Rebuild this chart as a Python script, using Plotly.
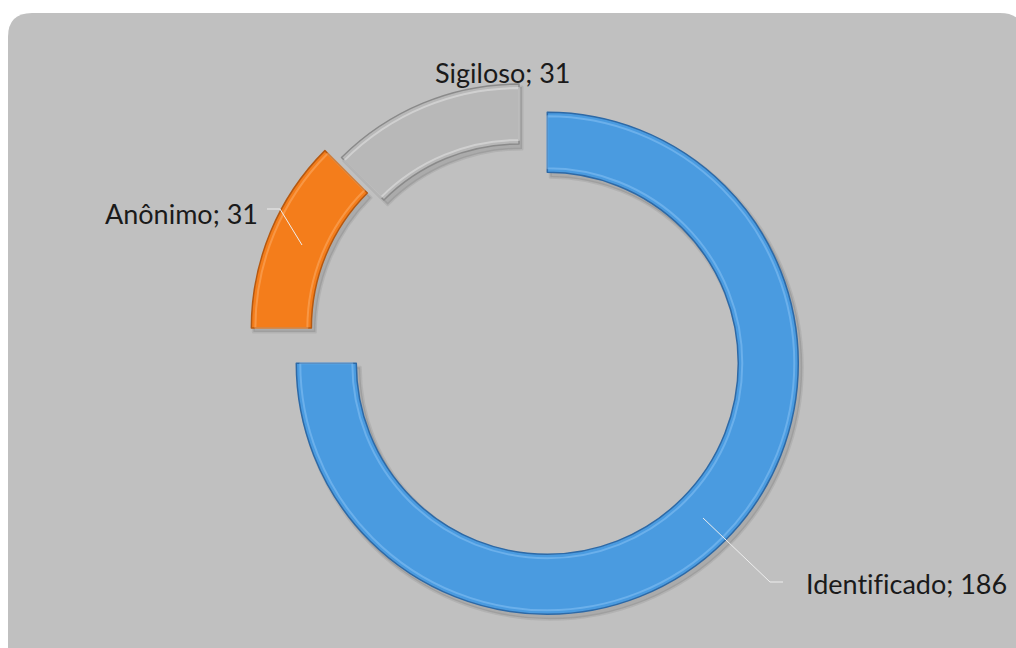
import plotly.graph_objects as go

# ---- data ----
categories = ["Identificado", "Anônimo", "Sigiloso"]
values = [186, 31, 31]
slice_colors = ["#4a9be0", "#f47d1b", "#b8b8b8"]
edge_colors = ["#2d69a6", "#b55810", "#8a8a8a"]
highlight_colors = ["rgba(170,215,255,0.35)", "rgba(255,200,150,0.35)", "rgba(245,245,245,0.4)"]
explode_px = [40, 18, 0]          # explosion of each slice (pixels)
label_texts = [f"{c}; {v}" for c, v in zip(categories, values)]

# ---- layout geometry (pixels) ----
W, H = 1016, 648
R_OUT, R_IN = 251.0, 191.0
CX, CY = 519.0, 335.0


def ring(r_out, r_in, cx, cy, colors, line_color, line_width):
    pulls = [d / r_out for d in explode_px]
    half = r_out * (1 + max(pulls))
    return go.Pie(
        labels=categories,
        values=values,
        hole=r_in / r_out,
        sort=False,
        direction="clockwise",
        rotation=0,
        pull=pulls,
        textinfo="none",
        hoverinfo="skip",
        showlegend=False,
        domain=dict(
            x=[(cx - half - 20) / W, (cx + half + 20) / W],
            y=[1 - (cy + half) / H, 1 - (cy - half) / H],
        ),
        marker=dict(colors=colors, line=dict(color=line_color, width=line_width)),
    )


fig = go.Figure()
# soft shadow
fig.add_trace(ring(R_OUT + 1, R_IN - 1, CX + 3, CY + 4,
                   ["rgba(60,60,60,0.16)"] * 3, "rgba(60,60,60,0.10)", 3))
# main ring
fig.add_trace(ring(R_OUT, R_IN, CX, CY, slice_colors, edge_colors, 1.5))
# bevel highlight (thin inset rim)
fig.add_trace(ring(R_OUT - 4, R_IN + 4, CX, CY,
                   ["rgba(0,0,0,0)"] * 3, highlight_colors, 2))

# background rounded panel
x0, x1 = 8 / W, 1024 / W
yt = 1 - 13 / H
rx, ry = 24 / W, 24 / H
panel = (f"M {x0},{yt - ry} Q {x0},{yt} {x0 + rx},{yt} "
         f"L {x1 - rx},{yt} Q {x1},{yt} {x1},{yt - ry} "
         f"L {x1},-0.05 L {x0},-0.05 Z")
shapes = [dict(type="path", xref="paper", yref="paper", path=panel,
               fillcolor="#c0c0c0", line=dict(width=0), layer="below")]


def px_path(pts):
    return "M " + " L ".join(f"{x / W},{1 - y / H}" for x, y in pts)


leaders = [
    [(703, 518), (770, 582), (783, 582)],   # Identificado
    [(267, 209), (280, 209), (302, 245)],   # Anônimo
]
for pts in leaders:
    shapes.append(dict(type="path", xref="paper", yref="paper",
                       path=px_path(pts),
                       line=dict(color="#eeeeee", width=1)))

label_pos = [(906, 583), (181, 213), (503, 72)]
annotations = []
for txt, (lx, ly) in zip(label_texts, label_pos):
    annotations.append(dict(
        text=txt, x=lx / W, y=1 - ly / H, xref="paper", yref="paper",
        xanchor="center", yanchor="middle", showarrow=False,
        font=dict(family="Lato", size=27, color="#1a1a1a"),
    ))

fig.update_layout(
    width=W, height=H,
    margin=dict(l=0, r=0, t=0, b=0),
    paper_bgcolor="white",
    shapes=shapes,
    annotations=annotations,
)

fig.write_html(
    "out.html",
    config={"displayModeBar": False},
    post_script=(
        "document.body.style.margin='0';"
        "document.body.style.overflow='hidden';"
        "document.querySelectorAll('text').forEach(function(t){"
        "t.style.fontVariantLigatures='none';});"
    ),
)
